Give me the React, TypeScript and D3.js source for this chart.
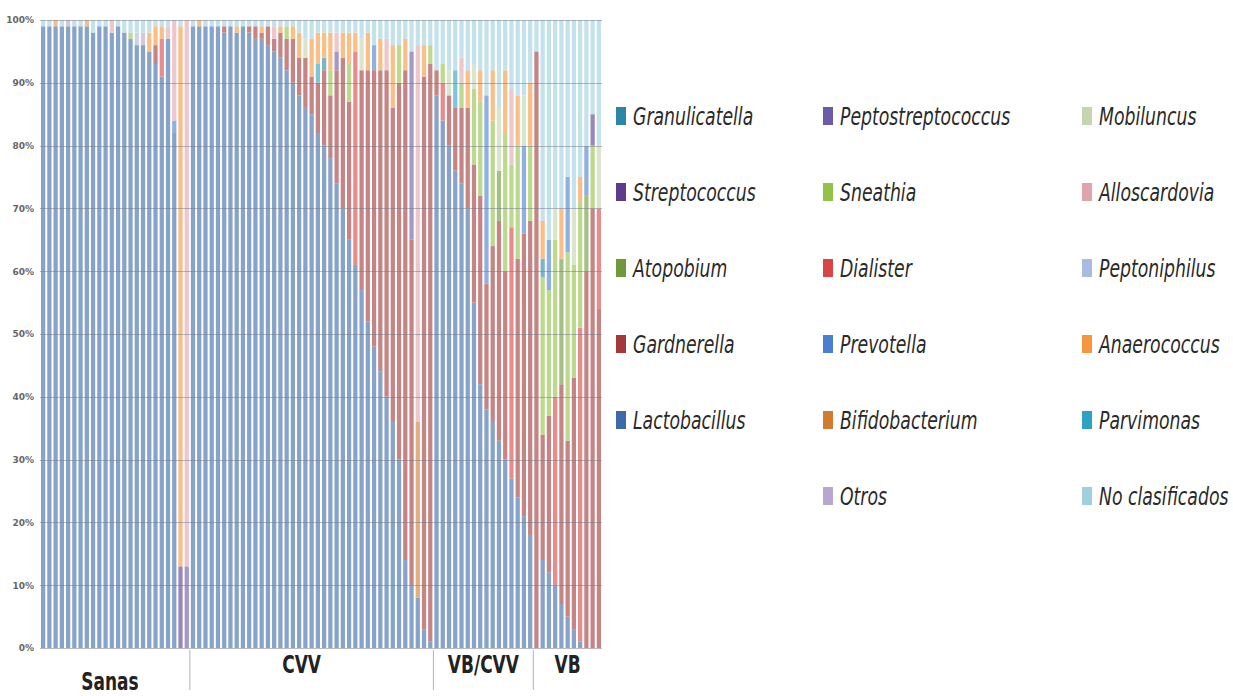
import React, { useRef, useEffect } from 'react';
import * as d3 from 'd3';

// sample groups along the x axis
const groups = ['Sanas', 'CVV', 'VB/CVV', 'VB'];
const groupSizes = [24, 39, 16, 11];

const yTickValues = [0, 0.1, 0.2, 0.3, 0.4, 0.5, 0.6, 0.7, 0.8, 0.9, 1];
const yTickLabels = ['0%', '10%', '20%', '30%', '40%', '50%', '60%', '70%', '80%', '90%', '100%'];

// relative abundance (%) per sample
// each array: Sanas (24) | CVV (39) | VB/CVV (16) | VB (11)
const lactobacillus = [
  99, 99, 99, 99, 99, 99, 99, 99, 98, 99, 99, 98, 99, 98, 97, 96, 96, 95, 93, 91, 97, 82, 0, 0,
  99, 99, 99, 99, 99, 98, 99, 98, 99, 98, 97, 97, 96, 95, 94, 92, 90, 88, 86, 85, 82, 80, 78, 74, 70, 65, 61, 57, 52, 48, 44, 40, 36, 30, 14, 10, 8, 3, 1,
  88, 84, 80, 76, 74, 70, 55, 42, 38, 36, 33, 30, 27, 24, 21, 18,
  0, 14, 12, 10, 7, 5, 3, 1, 0, 0, 0,
];
const gardnerella = [
  0, 0, 0, 0, 0, 0, 0, 0, 0, 0, 0, 0, 0, 0, 0, 0, 0, 0, 3, 0, 0, 0, 0, 0,
  0, 0, 0, 0, 0, 1, 0, 0, 0, 1, 2, 1, 3, 2, 4, 5, 7, 6, 8, 6, 8, 12, 10, 18, 24, 22, 0, 35, 40, 44, 48, 52, 50, 60, 78, 55, 0, 88, 92,
  4, 0, 8, 10, 12, 16, 22, 30, 20, 28, 35, 30, 0, 38, 45, 50,
  95, 20, 25, 0, 35, 28, 40, 0, 60, 70, 54,
];
const dialister = [
  0, 0, 0, 0, 0, 0, 0, 0, 0, 0, 0, 0, 0, 0, 0, 0, 0, 0, 0, 6, 0, 0, 0, 0,
  0, 0, 0, 0, 0, 0, 0, 0, 0, 0, 0, 0, 0, 0, 0, 0, 0, 0, 0, 0, 0, 0, 0, 0, 0, 0, 34, 0, 0, 0, 0, 0, 0, 0, 0, 0, 0, 0, 0,
  0, 6, 0, 0, 0, 0, 0, 0, 0, 0, 0, 0, 40, 0, 0, 0,
  0, 0, 0, 30, 0, 0, 0, 50, 0, 0, 16,
];
const atopobium = [
  0, 0, 0, 0, 0, 0, 0, 0, 0, 0, 0, 0, 0, 0, 0, 0, 0, 0, 0, 0, 0, 0, 0, 0,
  0, 0, 0, 0, 0, 0, 0, 0, 0, 0, 0, 0, 0, 0, 0, 0, 0, 0, 0, 0, 0, 0, 0, 0, 0, 0, 0, 0, 0, 0, 0, 0, 0, 0, 0, 0, 0, 0, 0,
  0, 0, 0, 0, 0, 0, 0, 0, 0, 0, 8, 0, 0, 0, 0, 0,
  0, 0, 0, 0, 20, 0, 0, 0, 12, 0, 0,
];
const sneathia = [
  0, 0, 0, 0, 0, 0, 0, 0, 0, 0, 0, 0, 0, 0, 1, 0, 0, 0, 0, 0, 0, 0, 0, 0,
  0, 0, 0, 0, 0, 0, 0, 0, 0, 0, 0, 0, 0, 0, 0, 2, 0, 0, 0, 0, 0, 0, 4, 0, 0, 6, 0, 0, 0, 0, 0, 0, 0, 6, 0, 0, 0, 0, 3,
  0, 3, 0, 0, 4, 0, 12, 15, 0, 20, 0, 22, 10, 18, 0, 12,
  0, 25, 20, 25, 0, 30, 18, 20, 0, 10, 0,
];
const prevotella = [
  0, 0, 0, 0, 0, 0, 0, 0, 0, 0, 0, 0, 0, 0, 0, 0, 0, 0, 0, 0, 0, 2, 0, 0,
  0, 0, 0, 0, 0, 0, 0, 0, 0, 0, 0, 0, 0, 0, 0, 0, 0, 0, 0, 0, 0, 0, 0, 0, 0, 0, 0, 0, 0, 4, 0, 0, 0, 0, 0, 0, 0, 0, 0,
  0, 0, 0, 0, 0, 0, 0, 0, 30, 0, 0, 0, 0, 0, 14, 0,
  0, 0, 8, 0, 0, 12, 0, 0, 8, 0, 0,
];
const peptostreptococcus = [
  0, 0, 0, 0, 0, 0, 0, 0, 0, 0, 0, 0, 0, 0, 0, 0, 0, 0, 0, 0, 0, 0, 0, 13,
  0, 0, 0, 0, 0, 0, 0, 0, 0, 0, 0, 0, 0, 0, 0, 0, 0, 0, 0, 0, 0, 0, 0, 3, 0, 0, 0, 0, 0, 0, 0, 0, 0, 0, 0, 30, 0, 0, 0,
  0, 0, 0, 0, 0, 0, 0, 0, 0, 0, 0, 0, 0, 0, 0, 0,
  0, 0, 0, 0, 0, 0, 0, 0, 0, 0, 0,
];
const streptococcus = [
  0, 0, 0, 0, 0, 0, 0, 0, 0, 0, 0, 0, 0, 0, 0, 0, 0, 0, 0, 0, 0, 0, 13, 0,
  0, 0, 0, 0, 0, 0, 0, 0, 0, 0, 0, 0, 0, 0, 0, 0, 0, 0, 0, 0, 0, 0, 0, 0, 0, 0, 0, 0, 0, 0, 0, 0, 0, 0, 0, 0, 0, 0, 0,
  0, 0, 0, 0, 0, 0, 0, 0, 0, 0, 0, 0, 0, 0, 0, 0,
  0, 0, 0, 0, 0, 0, 0, 0, 0, 5, 0,
];
const granulicatella = [
  0, 0, 0, 0, 0, 0, 0, 0, 0, 0, 0, 0, 0, 0, 0, 0, 0, 0, 0, 0, 0, 0, 0, 0,
  0, 0, 0, 0, 0, 0, 0, 0, 0, 0, 0, 0, 0, 0, 0, 0, 0, 0, 0, 0, 0, 2, 0, 0, 0, 0, 0, 0, 0, 0, 0, 0, 0, 0, 0, 0, 0, 0, 0,
  0, 0, 0, 0, 0, 0, 0, 0, 0, 0, 0, 0, 0, 0, 0, 0,
  0, 3, 0, 0, 0, 0, 0, 0, 0, 0, 0,
];
const parvimonas = [
  0, 0, 0, 0, 0, 0, 0, 0, 0, 0, 0, 0, 0, 0, 0, 0, 0, 0, 0, 0, 0, 0, 0, 0,
  0, 0, 0, 0, 0, 0, 0, 0, 0, 0, 0, 0, 0, 0, 0, 0, 0, 0, 0, 0, 3, 0, 0, 0, 0, 0, 0, 0, 0, 0, 0, 0, 0, 0, 0, 0, 0, 0, 0,
  0, 0, 0, 6, 0, 0, 0, 0, 0, 0, 0, 0, 0, 0, 0, 0,
  0, 0, 0, 0, 0, 0, 0, 0, 0, 0, 0,
];
const bifidobacterium = [
  0, 0, 0, 0, 0, 0, 0, 0, 0, 0, 0, 0, 0, 0, 0, 0, 0, 0, 0, 0, 0, 0, 0, 0,
  0, 0, 0, 0, 0, 0, 0, 0, 0, 0, 0, 0, 0, 0, 0, 0, 0, 0, 0, 0, 0, 0, 0, 0, 0, 0, 0, 0, 0, 0, 0, 0, 0, 0, 0, 0, 28, 0, 0,
  0, 0, 0, 0, 0, 0, 0, 0, 0, 0, 0, 0, 0, 0, 0, 0,
  0, 0, 0, 0, 0, 0, 0, 0, 0, 0, 0,
];
const mobiluncus = [
  0, 0, 0, 0, 0, 0, 0, 0, 0, 0, 0, 0, 0, 0, 0, 0, 0, 0, 0, 0, 0, 0, 0, 0,
  0, 0, 0, 0, 0, 0, 0, 0, 0, 0, 0, 0, 0, 0, 0, 0, 0, 0, 3, 0, 0, 0, 0, 0, 0, 0, 0, 5, 0, 0, 0, 0, 0, 0, 0, 0, 0, 0, 0,
  0, 0, 4, 0, 0, 0, 4, 0, 0, 0, 10, 0, 0, 0, 8, 0,
  0, 0, 0, 5, 0, 0, 9, 0, 0, 0, 10,
];
const alloscardovia = [
  0, 0, 0, 0, 0, 0, 0, 0, 0, 0, 0, 2, 0, 0, 0, 0, 0, 0, 0, 0, 2, 16, 0, 87,
  0, 0, 0, 0, 0, 0, 0, 0, 0, 0, 0, 0, 0, 2, 0, 0, 0, 0, 0, 0, 0, 0, 0, 3, 0, 0, 0, 0, 0, 0, 0, 5, 0, 0, 0, 0, 60, 0, 0,
  0, 0, 0, 0, 4, 0, 0, 0, 0, 0, 0, 0, 12, 0, 0, 0,
  0, 0, 0, 0, 0, 0, 0, 0, 0, 0, 0,
];
const peptoniphilus = [
  0, 0, 0, 0, 0, 0, 0, 0, 0, 0, 0, 0, 0, 0, 0, 2, 0, 0, 0, 0, 0, 0, 0, 0,
  0, 0, 0, 0, 0, 0, 0, 0, 0, 0, 0, 0, 0, 0, 0, 0, 0, 0, 0, 0, 0, 0, 0, 0, 0, 0, 0, 0, 0, 0, 0, 0, 0, 0, 0, 0, 0, 0, 0,
  0, 0, 0, 0, 0, 0, 0, 0, 0, 0, 0, 0, 0, 0, 0, 0,
  0, 0, 0, 0, 0, 0, 0, 0, 0, 0, 0,
];
const anaerococcus = [
  0, 0, 1, 0, 0, 0, 0, 1, 0, 0, 0, 0, 0, 0, 0, 0, 0, 3, 3, 2, 0, 0, 86, 0,
  0, 1, 0, 0, 0, 0, 0, 1, 0, 0, 0, 1, 0, 0, 1, 0, 2, 4, 0, 6, 5, 4, 6, 0, 4, 5, 3, 0, 6, 0, 5, 0, 10, 0, 5, 0, 0, 5, 0,
  0, 0, 0, 0, 0, 6, 0, 5, 0, 8, 0, 10, 0, 8, 0, 10,
  0, 6, 0, 0, 8, 0, 0, 4, 0, 0, 0,
];
const otros = [
  0, 0, 0, 0, 1, 0, 0, 0, 0, 0, 0, 0, 0, 0, 0, 0, 2, 0, 0, 0, 0, 0, 0, 0,
  0, 0, 0, 0, 0, 0, 0, 0, 0, 0, 0, 0, 0, 0, 0, 0, 0, 0, 0, 0, 0, 0, 0, 0, 0, 0, 0, 0, 0, 0, 0, 0, 0, 0, 0, 0, 0, 0, 0,
  0, 0, 0, 0, 0, 0, 0, 0, 0, 0, 0, 0, 0, 0, 0, 0,
  0, 0, 0, 0, 0, 0, 0, 0, 0, 0, 0,
];
const noClasificados = [
  1, 1, 0, 1, 0, 1, 1, 0, 2, 1, 1, 0, 1, 2, 2, 2, 2, 2, 1, 1, 1, 0, 1, 0,
  1, 0, 1, 1, 1, 1, 1, 1, 1, 1, 1, 1, 1, 1, 1, 1, 1, 2, 3, 3, 2, 2, 2, 2, 2, 2, 2, 3, 2, 4, 3, 3, 4, 4, 3, 5, 4, 4, 4,
  8, 7, 8, 8, 6, 8, 7, 8, 12, 8, 14, 8, 11, 12, 12, 10,
  5, 32, 35, 30, 30, 25, 30, 25, 20, 15, 20,
];

// stacking order, bottom to top
const series = [
  { name: 'Lactobacillus', values: lactobacillus, color: '#3d6aa8' },
  { name: 'Gardnerella', values: gardnerella, color: '#a33a3a' },
  { name: 'Dialister', values: dialister, color: '#d94444' },
  { name: 'Atopobium', values: atopobium, color: '#6e9a3c' },
  { name: 'Sneathia', values: sneathia, color: '#94c247' },
  { name: 'Prevotella', values: prevotella, color: '#4a80d0' },
  { name: 'Peptostreptococcus', values: peptostreptococcus, color: '#6b5ba8' },
  { name: 'Streptococcus', values: streptococcus, color: '#5c3d8c' },
  { name: 'Granulicatella', values: granulicatella, color: '#2e86a6' },
  { name: 'Parvimonas', values: parvimonas, color: '#2ea3c0' },
  { name: 'Bifidobacterium', values: bifidobacterium, color: '#d07b30' },
  { name: 'Mobiluncus', values: mobiluncus, color: '#c5d5ae' },
  { name: 'Alloscardovia', values: alloscardovia, color: '#e0a4ac' },
  { name: 'Peptoniphilus', values: peptoniphilus, color: '#a9bbe0' },
  { name: 'Anaerococcus', values: anaerococcus, color: '#f7963e' },
  { name: 'Otros', values: otros, color: '#b4a8d0' },
  { name: 'No clasificados', values: noClasificados, color: '#9fd0e0' },
];

// legend layout as in the figure (column by column)
const legendColumns = [
  ['Granulicatella', 'Streptococcus', 'Atopobium', 'Gardnerella', 'Lactobacillus'],
  ['Peptostreptococcus', 'Sneathia', 'Dialister', 'Prevotella', 'Bifidobacterium', 'Otros'],
  ['Mobiluncus', 'Alloscardovia', 'Peptoniphilus', 'Anaerococcus', 'Parvimonas', 'No clasificados'],
];

const WIDTH = 1233;
const HEIGHT = 696;
const font = "'DejaVu Sans', sans-serif";

const App = () => {
  const svgRef = useRef(null);

  useEffect(() => {
    const svg = d3.select(svgRef.current);
    svg.selectAll('*').remove();

    const n = lactobacillus.length;
    const rows = d3.range(n).map(i => {
      const row: any = { id: i };
      series.forEach(s => { row[s.name] = s.values[i]; });
      return row;
    });

    const xScale = d3.scaleBand()
      .domain(d3.range(n) as any)
      .range([40, 602])
      .paddingInner(0.32)
      .paddingOuter(0.16);
    const yScale = d3.scaleLinear().domain([0, 1]).range([648, 20]);

    const colorOf = new Map(series.map(s => [s.name, s.color]));
    const stacked = d3.stack()
      .keys(series.map(s => s.name))
      .offset(d3.stackOffsetExpand)(rows);

    // bars
    svg.append('g')
      .selectAll('g')
      .data(stacked)
      .join('g')
      .attr('fill', d => d3.interpolateRgb(colorOf.get(d.key), '#ffffff')(0.38))
      .selectAll('rect')
      .data(d => d)
      .join('rect')
      .attr('x', (d, i) => xScale(i as any))
      .attr('width', xScale.bandwidth())
      .attr('y', d => yScale(d[1]))
      .attr('height', d => Math.max(0, yScale(d[0]) - yScale(d[1])));

    // gridlines over the bars
    svg.append('g')
      .selectAll('line')
      .data(yTickValues)
      .join('line')
      .attr('x1', 40)
      .attr('x2', 602)
      .attr('y1', d => Math.round(yScale(d)) + 0.5)
      .attr('y2', d => Math.round(yScale(d)) + 0.5)
      .attr('stroke', '#6f7785')
      .attr('stroke-opacity', 0.5);

    // y axis
    const yAxis = d3.axisLeft(yScale)
      .tickValues(yTickValues)
      .tickFormat((d, i) => yTickLabels[i])
      .tickSize(0)
      .tickPadding(4);
    svg.append('g')
      .attr('transform', 'translate(38,0)')
      .call(yAxis)
      .call(g => g.select('.domain').remove())
      .call(g => g.selectAll('text')
        .attr('font-size', 9)
        .attr('font-weight', 'bold')
        .attr('font-family', font)
        .attr('fill', '#666'));

    // group separators and labels
    const step = xScale.step();
    const starts = groupSizes.map((s, i) => d3.sum(groupSizes.slice(0, i)));
    const sepX = starts.slice(1).map(s => 40 + s * step);
    svg.append('g')
      .selectAll('line')
      .data(sepX)
      .join('line')
      .attr('x1', d => d)
      .attr('x2', d => d)
      .attr('y1', 650)
      .attr('y2', 690)
      .attr('stroke', '#b5b5b5');

    svg.append('g')
      .selectAll('text')
      .data(groups)
      .join('text')
      .attr('transform', (d, i) => {
        const cx = 40 + (starts[i] + groupSizes[i] / 2) * step - (i === 0 ? 5 : i === 1 ? 10 : 0);
        const cy = i === 0 ? 690 : 673;
        return `translate(${cx},${cy}) scale(0.68,1)`;
      })
      .attr('text-anchor', 'middle')
      .attr('font-family', font)
      .attr('font-weight', 'bold')
      .attr('font-size', 25)
      .attr('fill', '#222')
      .text(d => d);

    // legend
    const colX = [616, 823, 1082];
    const legend = svg.append('g');
    legendColumns.forEach((col, ci) => {
      const g = legend.append('g');
      g.selectAll('rect')
        .data(col)
        .join('rect')
        .attr('x', colX[ci])
        .attr('y', (d, ri) => 107 + ri * 76)
        .attr('width', 10)
        .attr('height', 18)
        .attr('fill', d => colorOf.get(d));
      g.selectAll('text')
        .data(col)
        .join('text')
        .attr('transform', (d, ri) => `translate(${colX[ci] + 17},${125 + ri * 76}) scale(0.72,1)`)
        .attr('font-family', font)
        .attr('font-style', 'italic')
        .attr('font-size', 24)
        .attr('fill', '#2a2a2a')
        .text(d => d);
    });
  }, []);

  return (
    <svg
      ref={svgRef}
      width={WIDTH}
      height={HEIGHT}
      style={{ position: 'absolute', left: 0, top: 0, background: '#fff' }}
    />
  );
};

export default App;
